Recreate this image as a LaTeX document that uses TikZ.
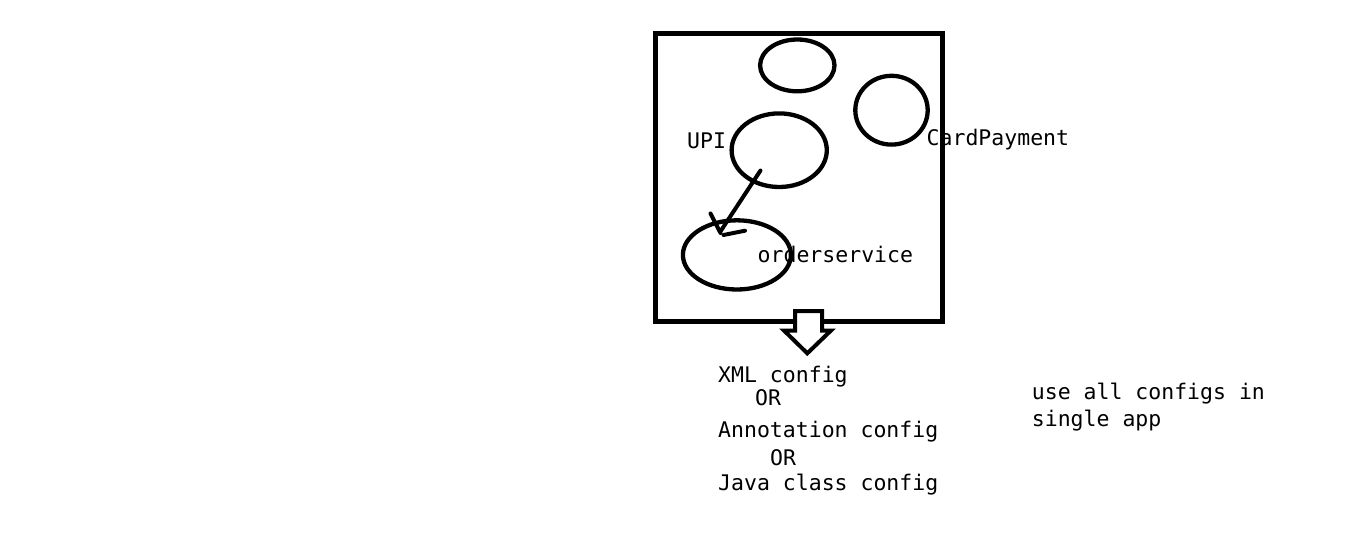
\documentclass[tikz,border=0pt]{standalone}
\usepackage{fontspec}
\setmainfont{DejaVu Sans Mono}
\usetikzlibrary{shapes.geometric}
\begin{document}
\begin{tikzpicture}[x=1pt,y=-1pt,
  bean/.style={draw=black,line width=4.3pt,ellipse,inner sep=0pt},
  lbl/.style={anchor=base west,inner sep=0pt,font=\fontsize{21.5pt}{24pt}\selectfont},
  stroke/.style={draw=black,line width=4pt,line cap=round}]
\useasboundingbox (0,0) rectangle (1349,544);
\fill[white] (0,0) rectangle (1349,544);
% frame
\node[draw=black,line width=5pt,minimum width=287.3pt,minimum height=288.2pt,inner sep=0pt] (frame) at (798.85,177.4) {};
% ellipses
\node[bean,minimum width=74.4pt,minimum height=51.8pt] (top) at (797.3,65.4) {};
\node[bean,minimum width=72.4pt,minimum height=68.8pt] (card) at (891.5,110.2) {};
\node[bean,minimum width=95.2pt,minimum height=73.6pt] (upi) at (779.2,150.2) {};
\node[bean,minimum width=108pt,minimum height=69.2pt] (order) at (736.9,254.9) {};
% labels
\node[lbl] (upil) at (687,148.7) {UPI};
\node[lbl] (cardl) at (926.5,145) {CardPayment};
\node[lbl] (orderl) at (757.5,262.6) {orderservice};
% hand-drawn arrow from UPI to orderservice
\coordinate (a1) at (760.5,170.5);
\coordinate (a2) at (720.7,231);
\coordinate (b1) at (710.5,213.5);
\coordinate (b2) at (720.5,233);
\coordinate (c1) at (723.5,235);
\coordinate (c2) at (745,230.7);
\draw[stroke] (a1) -- (a2);
\draw[stroke] (b1) -- (b2);
\draw[stroke] (c1) -- (c2);
% block arrow below the frame
\coordinate (s1) at (795,330.5);
\draw[draw=black,line width=4pt,fill=white,line join=miter]
  (s1) -- (795,311) -- (822,311) -- (822,330.5) -- (831,330.5) -- (807.3,353.3) -- (784,330.5) -- cycle;
% config texts
\node[lbl] (xml) at (718,382.7) {XML config};
\node[lbl] (or1) at (755,405) {OR};
\node[lbl] (ann) at (718,437.7) {Annotation config};
\node[lbl] (or2) at (770,465) {OR};
\node[lbl] (java) at (718,490.7) {Java class config};
\node[lbl] (use1) at (1031.7,399.3) {use all configs in};
\node[lbl] (use2) at (1031.7,426.7) {single app};
\end{tikzpicture}
\end{document}
